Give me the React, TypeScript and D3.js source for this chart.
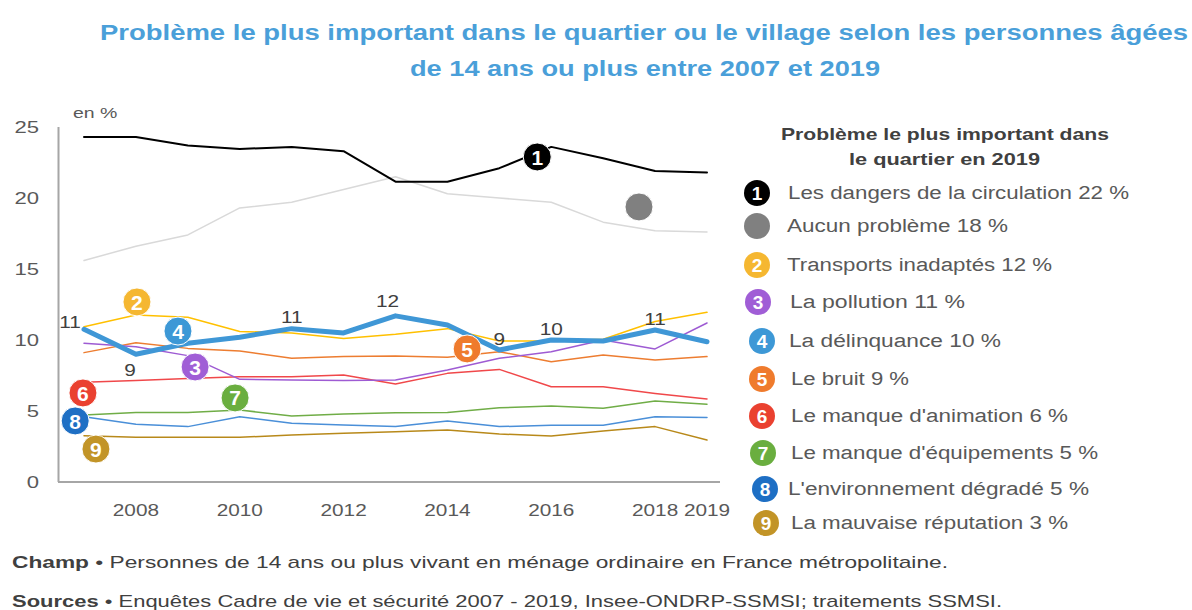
import React from "react";
import * as d3 from "d3";

const years = [2007, 2008, 2009, 2010, 2011, 2012, 2013, 2014, 2015, 2016, 2017, 2018, 2019];

const dangers = [24.3, 24.3, 23.7, 23.45, 23.6, 23.3, 21.15, 21.15, 22.1, 23.6, 22.8, 21.9, 21.8];
const aucun = [15.6, 16.6, 17.4, 19.3, 19.7, 20.6, 21.5, 20.3, 20.0, 19.7, 18.3, 17.7, 17.6];
const transports = [10.94, 11.76, 11.6, 10.6, 10.5, 10.1, 10.4, 10.8, 9.93, 9.93, 10.05, 11.3, 11.95];
const pollution = [9.77, 9.53, 8.9, 7.23, 7.18, 7.14, 7.18, 7.89, 8.71, 9.18, 10.0, 9.37, 11.2];
const delinquance = [10.75, 9.0, 9.77, 10.2, 10.8, 10.5, 11.7, 11.06, 9.3, 10.0, 9.93, 10.7, 9.88];
const bruit = [9.11, 9.81, 9.41, 9.22, 8.71, 8.83, 8.87, 8.78, 9.18, 8.47, 8.94, 8.59, 8.83];
const animation = [7.02, 7.14, 7.28, 7.42, 7.42, 7.54, 6.9, 7.65, 7.93, 6.71, 6.71, 6.24, 5.85];
const equipements = [4.72, 4.9, 4.9, 5.07, 4.65, 4.79, 4.88, 4.9, 5.23, 5.35, 5.19, 5.7, 5.47];
const environnement = [4.6, 4.06, 3.9, 4.6, 4.13, 4.01, 3.9, 4.3, 3.9, 4.0, 4.0, 4.6, 4.55];
const reputation = [3.26, 3.15, 3.15, 3.15, 3.31, 3.43, 3.54, 3.66, 3.38, 3.24, 3.59, 3.9, 2.96];

const yTicks = [0, 5, 10, 15, 20, 25];
const xTickLabels = [2008, 2010, 2012, 2014, 2016, 2018, 2019];

const legendLabels = [
  "Les dangers de la circulation 22 %",
  "Aucun problème 18 %",
  "Transports inadaptés 12 %",
  "La pollution 11 %",
  "La délinquance 10 %",
  "Le bruit 9 %",
  "Le manque d'animation 6 %",
  "Le manque d'équipements 5 %",
  "L'environnement dégradé 5 %",
  "La mauvaise réputation 3 %",
];
const markerNumbers = ["1", "", "2", "3", "4", "5", "6", "7", "8", "9"];

// marker annotation anchors on the chart (year, value)
const markerYears = [2015.73, 2017.69, 2008.02, 2009.14, 2008.81, 2014.38, 2006.98, 2009.91, 2006.83, 2007.23];
const markerValues = [22.89, 19.37, 12.68, 8.1, 10.63, 9.37, 6.27, 5.92, 4.3, 2.32];

// value labels on the délinquance series
const labelYears = [2007, 2008, 2011, 2013, 2015, 2016, 2018];
const labelPlacement = ["left", "below", "above", "aboveLeft", "above", "above", "above"];

const seriesValues = [dangers, aucun, transports, pollution, delinquance, bruit, animation, equipements, environnement, reputation];
const lineColors = ["#000000", "#d9d9d9", "#ffc000", "#9e5bd3", "#3f97d6", "#ed7d31", "#f0484a", "#70ad47", "#4a8fd8", "#b8891a"];
const markerColors = ["#000000", "#808080", "#f5b731", "#a05ed6", "#3d98d6", "#ef7b2d", "#ea4130", "#6aae3f", "#1e6fc4", "#c29427"];
const lineWidths = [2, 1.5, 1.5, 1.5, 5, 1.5, 1.5, 1.5, 1.5, 1.5];
const drawOrder = [1, 0, 9, 8, 7, 6, 5, 3, 2, 4];

const FONT = "'Liberation Sans', Arial, Helvetica, sans-serif";
const SX = 1.3;

function SText(props: any) {
  const { x, y, sx = SX, children, ...rest } = props;
  return (
    <g transform={`translate(${x},${y}) scale(${sx},1)`}>
      <text {...rest}>{children}</text>
    </g>
  );
}

export default function App() {
  const W = 1192;
  const H = 610;
  const x = d3.scaleLinear().domain([2007, 2019]).range([84, 707]);
  const y = d3.scaleLinear().domain([0, 25]).range([482, 127]);
  const line = d3
    .line<number>()
    .x((_, i) => x(years[i]))
    .y((d) => y(d));

  const legendRowY = [193, 226, 265, 302, 341, 379, 416, 453, 489, 523];
  const legendMarkerX = [757, 757, 757, 758, 762, 762, 762, 763, 765, 766];
  const legendTextX = [788, 787, 787, 790, 789, 791, 791, 791, 788, 791];
  const legendTextW = [341, 221, 265, 175, 212, 118, 277, 307, 301, 277];

  const labelOffset: Record<string, [number, number]> = {
    left: [-14, -7],
    below: [-6, 16],
    above: [0, -11],
    aboveLeft: [-8, -14],
  };

  return (
    <svg
      width={W}
      height={H}
      style={{ position: "absolute", left: 0, top: 0, display: "block", background: "#fff" }}
      fontFamily={FONT}
    >
      <text x={100} y={40} textLength={1088} lengthAdjust="spacingAndGlyphs" fontSize={22} fontWeight="bold" fill="#4a9fd9">
        Problème le plus important dans le quartier ou le village selon les personnes âgées
      </text>
      <text x={410} y={76} textLength={470} lengthAdjust="spacingAndGlyphs" fontSize={22} fontWeight="bold" fill="#4a9fd9">
        de 14 ans ou plus entre 2007 et 2019
      </text>

      <SText x={73} y={118} fontSize={15} fill="#595959">en %</SText>

      {yTicks.map((t) => (
        <SText key={t} x={39} y={y(t)} dy="0.35em" textAnchor="end" fontSize={17} fill="#595959">
          {t}
        </SText>
      ))}
      {xTickLabels.map((t) => (
        <SText key={t} x={x(t)} y={516} textAnchor="middle" fontSize={16} fill="#595959">
          {t}
        </SText>
      ))}

      <line x1={58.5} x2={58.5} y1={y(25)} y2={y(0)} stroke="#a6a6a6" strokeWidth={2} />
      <line x1={58} x2={720} y1={y(0)} y2={y(0)} stroke="#a6a6a6" strokeWidth={2} />

      {drawOrder.map((si) => (
        <path
          key={si}
          d={line(seriesValues[si]) || ""}
          fill="none"
          stroke={lineColors[si]}
          strokeWidth={lineWidths[si]}
          strokeLinejoin="round"
          strokeLinecap="round"
        />
      ))}

      {labelYears.map((yr, k) => {
        const i = years.indexOf(yr);
        const [dx, dy] = labelOffset[labelPlacement[k]];
        return (
          <SText
            key={yr}
            x={x(yr) + dx}
            y={y(delinquance[i]) + dy}
            dy="0.35em"
            textAnchor="middle"
            fontSize={16}
            fill="#404040"
          >
            {Math.round(delinquance[i])}
          </SText>
        );
      })}

      {markerYears.map((yr, k) => (
        <g key={k} transform={`translate(${x(yr)},${y(markerValues[k])})`}>
          <circle r={14} fill={markerColors[k]} stroke="#fff" strokeWidth={1} />
          {markerNumbers[k] && (
            <text textAnchor="middle" dy="0.36em" fontSize={21} fontWeight="bold" fill="#fff">
              {markerNumbers[k]}
            </text>
          )}
        </g>
      ))}

      <text x={781} y={140} textLength={328} lengthAdjust="spacingAndGlyphs" fontSize={17} fontWeight="bold" fill="#404040">
        Problème le plus important dans
      </text>
      <text x={849} y={165} textLength={191} lengthAdjust="spacingAndGlyphs" fontSize={17} fontWeight="bold" fill="#404040">
        le quartier en 2019
      </text>

      {legendLabels.map((lab, k) => (
        <g key={k}>
          <g transform={`translate(${legendMarkerX[k]},${legendRowY[k]})`}>
            <circle r={13} fill={markerColors[k]} />
            {markerNumbers[k] && (
              <text textAnchor="middle" dy="0.36em" fontSize={19} fontWeight="bold" fill="#fff">
                {markerNumbers[k]}
              </text>
            )}
          </g>
          <text
            x={legendTextX[k]}
            y={legendRowY[k]}
            dy="0.35em"
            textLength={legendTextW[k]}
            lengthAdjust="spacingAndGlyphs"
            fontSize={18}
            fill="#595959"
          >
            {lab}
          </text>
        </g>
      ))}

      <text x={12} y={568} fontSize={17} fill="#404040" textLength={936} lengthAdjust="spacingAndGlyphs">
        <tspan fontWeight="bold">Champ</tspan>
        <tspan> • Personnes de 14 ans ou plus vivant en ménage ordinaire en France métropolitaine.</tspan>
      </text>
      <text x={12} y={607} fontSize={17} fill="#404040" textLength={990} lengthAdjust="spacingAndGlyphs">
        <tspan fontWeight="bold">Sources</tspan>
        <tspan> • Enquêtes Cadre de vie et sécurité 2007 - 2019, Insee-ONDRP-SSMSI; traitements SSMSI.</tspan>
      </text>
    </svg>
  );
}
